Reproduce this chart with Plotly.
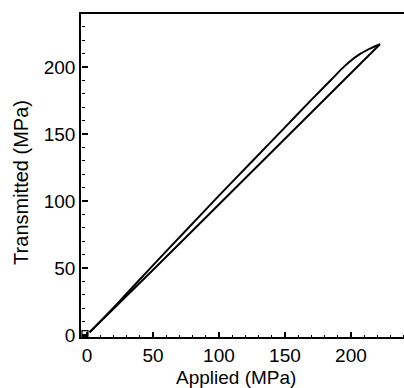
import plotly.graph_objects as go

# Loading / unloading branches (MPa)
upper_x = [2, 25, 50, 75, 100, 125, 150, 170, 185, 195, 205, 214, 222]
upper_y = [2, 25.5, 52, 78, 104, 129.5, 155, 175.5, 190.5, 200.5, 208.5, 213.5, 217]
lower_x = [2, 25, 50, 75, 100, 125, 150, 175, 200, 222]
lower_y = [2, 24, 48.5, 73, 97.5, 122, 146.5, 171, 195.5, 217]
origin_x = [-1.5]
origin_y = [1]

x_range = [-4.5, 240.2]
y_range = [-1.5, 239.6]

PLOT_H = 388 - 14 - 51  # plot-area height in px

fig = go.Figure()
fig.add_trace(go.Scatter(x=lower_x, y=lower_y, mode="lines",
                         line=dict(color="black", width=2), showlegend=False))
fig.add_trace(go.Scatter(x=upper_x, y=upper_y, mode="lines",
                         line=dict(color="black", width=2, shape="spline", smoothing=0.8),
                         showlegend=False))
fig.add_trace(go.Scatter(x=origin_x, y=origin_y, mode="markers",
                         marker=dict(symbol="square-open", size=6, color="black",
                                     line=dict(width=1.2)),
                         showlegend=False))
# helper traces so the tick-only overlay axes are drawn
for xa, ya in [("x", "y2"), ("x2", "y"), ("x3", "y")]:
    fig.add_trace(go.Scatter(x=origin_x, y=origin_y, mode="markers", xaxis=xa, yaxis=ya,
                             marker=dict(opacity=0), hoverinfo="skip", showlegend=False))

font = dict(family="Liberation Sans, Arial, sans-serif", size=19, color="black")

tick_axis = dict(
    tickmode="linear", tick0=0, dtick=50, ticks="outside", ticklen=6,
    tickwidth=1.5, tickcolor="black", showticklabels=False,
    minor=dict(tickmode="linear", tick0=0, dtick=10, ticks="outside", ticklen=3,
               tickwidth=1.2, tickcolor="black", showgrid=False),
    showline=False, showgrid=False, zeroline=False,
)
plain_tick = dict(tickmode="linear", tick0=0, ticks="outside", tickcolor="black",
                  showticklabels=False, showline=False, showgrid=False, zeroline=False)

fig.update_layout(
    template="none",
    width=404, height=388,
    margin=dict(l=81, r=0, t=14, b=51),
    paper_bgcolor="white", plot_bgcolor="white",
    font=font,
    xaxis=dict(range=x_range, tickmode="linear", tick0=0, dtick=50, ticks="",
               showline=True, linecolor="black", linewidth=1.5, mirror=True,
               showgrid=False, zeroline=False),
    yaxis=dict(range=y_range, tickmode="linear", tick0=0, dtick=50, ticks="",
               showline=True, linecolor="black", linewidth=1.5, mirror=False,
               showgrid=False, zeroline=False),
    yaxis2=dict(range=y_range, overlaying="y", side="right", anchor="free", position=0,
                **tick_axis),
    # major x ticks: axis raised 6 px, ticks point down onto the frame line
    xaxis2=dict(range=x_range, overlaying="x", side="bottom", anchor="free",
                position=6 / PLOT_H, dtick=50, ticklen=6, tickwidth=1.5, **plain_tick),
    # minor x ticks: axis raised 3 px
    xaxis3=dict(range=x_range, overlaying="x", side="bottom", anchor="free",
                position=3 / PLOT_H, dtick=10, ticklen=3, tickwidth=1.2, **plain_tick),
    annotations=[
        dict(text="Applied (MPa)", xref="paper", yref="paper", x=0.48, y=-0.125,
             xanchor="center", yanchor="middle", showarrow=False, font=font),
        dict(text="Transmitted (MPa)", xref="paper", yref="paper", x=-0.186, y=0.48,
             xanchor="center", yanchor="middle", textangle=-90, showarrow=False,
             font=dict(family=font["family"], size=20, color="black")),
    ],
)

fig.write_html("out.html")
